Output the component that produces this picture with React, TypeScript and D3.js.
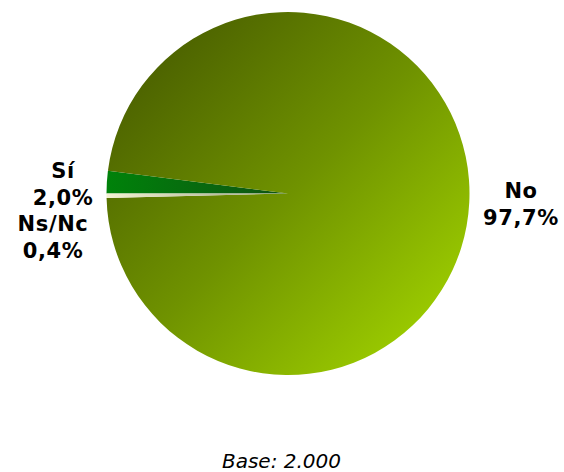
import React from 'react'
import { pie, arc, PieArcDatum } from 'd3'

const categories = ['Sí', 'No', 'Ns/Nc']
const values = [2.0, 97.7, 0.4]
const valueLabels = ['2,0%', '97,7%', '0,4%']
const baseLabel = 'Base: 2.000'

const width = 564
const height = 472
const cx = 288
const cy = 193.5
const radius = 181.5

const fills = ['url(#gSi)', 'url(#gNo)', 'url(#gNs)']

// label anchor points (outside the pie)
const labelPos = [
  { x: 63, y: 178 },
  { x: 521, y: 198 },
  { x: 53, y: 231 },
]

type Row = { name: string; value: number; label: string }

function App() {
  const data: Row[] = categories.map((c, i) => ({ name: c, value: values[i], label: valueLabels[i] }))

  const start = 1.5 * Math.PI
  const arcs = pie<Row>()
    .sort(null)
    .value(d => d.value)
    .startAngle(start)
    .endAngle(start + 2 * Math.PI)(data)

  const arcGen = arc<PieArcDatum<Row>>().innerRadius(0).outerRadius(radius)

  const font = { fontFamily: '"DejaVu Sans", Verdana, sans-serif', fontWeight: 'bold' as const, fontSize: 21, letterSpacing: 0.6 }

  return (
    <svg width={width} height={height} style={{ position: 'absolute', left: 0, top: 0 }}>
      <defs>
        <linearGradient id="gNo" gradientUnits="userSpaceOnUse"
          x1={-radius * 0.75} y1={-radius * 0.75} x2={radius * 0.75} y2={radius * 0.75}>
          <stop offset="0%" stopColor="#4c6200" />
          <stop offset="50%" stopColor="#6f9200" />
          <stop offset="100%" stopColor="#9bcb00" />
        </linearGradient>
        <radialGradient id="gSi" gradientUnits="userSpaceOnUse" cx={0} cy={0} r={radius}>
          <stop offset="0%" stopColor="#0f5214" />
          <stop offset="100%" stopColor="#00820a" />
        </radialGradient>
        <radialGradient id="gNs" gradientUnits="userSpaceOnUse" cx={0} cy={0} r={radius}>
          <stop offset="0%" stopColor="#9aa080" />
          <stop offset="100%" stopColor="#f4f2d2" />
        </radialGradient>
      </defs>
      <g transform={`translate(${cx},${cy})`}>
        {arcs.map((a, i) => (
          <path key={a.data.name} d={arcGen(a) || ''} fill={fills[i]} />
        ))}
      </g>
      {data.map((d, i) => (
        <text key={d.name} x={labelPos[i].x} y={labelPos[i].y} textAnchor="middle" style={font}>
          <tspan x={labelPos[i].x}>{d.name}</tspan>
          <tspan x={labelPos[i].x} dy={27}>{d.label}</tspan>
        </text>
      ))}
      <text x={281.5} y={468} textAnchor="middle"
        style={{ fontFamily: '"DejaVu Sans", Verdana, sans-serif', fontStyle: 'italic', fontSize: 20 }}>
        {baseLabel}
      </text>
    </svg>
  )
}

export default App
